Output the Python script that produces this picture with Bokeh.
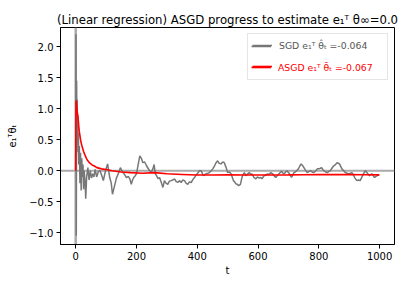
from bokeh.plotting import figure
from bokeh.models import Span, Legend, LegendItem, FixedTicker, Range1d, CustomJSTickFormatter
from bokeh.embed import file_html
from bokeh.resources import INLINE
from bokeh.core.properties import value

# ---- data ----
t_sgd = [0, 1, 2, 3, 4, 5, 6, 7, 8, 9, 10, 12, 14, 16, 18, 20, 22, 24, 26, 28, 31, 33, 36, 40, 44,
         48, 52, 56, 60, 64, 69, 74, 80, 86, 91, 98, 105, 112, 117, 121, 125, 129, 134, 140, 147,
         152, 156, 162, 167, 173, 178, 183, 187, 191, 196, 200, 206, 211, 216, 221, 227, 233, 238,
         243, 249, 254, 258, 262, 266, 271, 276, 281, 287, 292, 297, 303, 308, 314, 319, 325, 330,
         336, 341, 347, 352, 358, 363, 369, 374, 380, 386, 391, 396, 400, 407, 413, 417, 421, 425,
         429, 435, 440, 446, 451, 457, 462, 467, 472, 478, 484, 489, 495, 500, 506, 511, 515, 519,
         523, 527, 532, 536, 542, 547, 551, 555, 560, 566, 571, 576, 580, 587, 593, 598, 604, 609,
         613, 620, 626, 631, 636, 642, 648, 653, 658, 663, 669, 673, 677, 682, 686, 691, 695, 702,
         706, 710, 714, 718, 723, 727, 731, 735, 738, 742, 747, 751, 756, 762, 768, 773, 778, 784,
         790, 795, 800, 805, 809, 813, 817, 822, 828, 833, 838, 843, 849, 855, 860, 864, 868, 872,
         876, 882, 887, 893, 898, 904, 909, 914, 918, 922, 925, 931, 936, 940, 944, 949, 953, 958,
         963, 967, 971, 975, 979, 983, 988, 992, 996, 999]
v_sgd = [0.0, 2.2, -1.05, 1.45, 0.8, 1.15, 0.45, 0.9, 0.3, 0.6, 0.1, 0.4, -0.2, 0.29, -0.32, 0.2,
         -0.1, 0.1, -0.3, 0.0, -0.2, -0.45, -0.1, 0.05, -0.15, 0.0, -0.12, -0.05, -0.1, 0.02, -0.1,
         -0.02, 0.0, -0.08, -0.16, 0.0, 0.11, -0.11, -0.2, -0.38, -0.3, -0.22, -0.12, -0.05, 0.05,
         0.0, -0.03, -0.07, -0.11, -0.09, -0.13, -0.22, -0.15, -0.11, -0.08, -0.05, 0.11, 0.24, 0.2,
         0.13, 0.14, 0.08, 0.04, 0.0, -0.02, 0.03, 0.1, -0.05, -0.08, -0.13, -0.11, -0.18, -0.27,
         -0.16, -0.2, -0.22, -0.17, -0.16, -0.15, -0.13, -0.17, -0.19, -0.16, -0.19, -0.15, -0.16,
         -0.2, -0.22, -0.18, -0.19, -0.14, -0.11, -0.07, -0.05, 0.0, 0.0, -0.05, -0.08, -0.06, -0.05,
         -0.04, -0.03, 0.0, 0.03, 0.08, 0.13, 0.16, 0.12, 0.11, 0.14, 0.13, 0.05, -0.03, -0.02, -0.05,
         -0.1, -0.16, -0.18, -0.21, -0.22, -0.24, -0.22, -0.11, -0.06, -0.03, -0.08, -0.05, -0.03,
         -0.06, -0.05, -0.11, -0.13, -0.1, -0.12, -0.11, -0.13, -0.08, -0.07, -0.05, -0.06, -0.03,
         -0.05, -0.08, -0.11, -0.08, -0.05, -0.03, -0.01, -0.04, -0.05, -0.02, 0.0, -0.04, -0.07,
         -0.11, -0.07, -0.03, -0.02, 0.0, 0.02, 0.05, 0.08, 0.11, 0.08, 0.05, 0.01, -0.03, -0.01, 0.0,
         -0.02, -0.03, 0.0, 0.03, 0.03, 0.04, 0.05, 0.02, 0.0, -0.02, -0.03, -0.01, 0.0, 0.04, 0.08,
         0.1, 0.13, 0.12, 0.11, 0.07, 0.03, 0.0, -0.03, -0.04, -0.05, -0.04, -0.03, -0.07, -0.11,
         -0.14, -0.16, -0.15, -0.16, -0.12, -0.08, -0.03, 0.0, -0.03, -0.06, -0.08, -0.06, -0.05,
         -0.08, -0.11, -0.09, -0.08, -0.07, -0.064]

t_asgd = [0, 1, 2, 3, 5, 8, 10, 12, 14, 16, 18, 20, 23, 26, 30, 35, 40, 45, 50, 55, 60, 70, 85,
          100, 120, 150, 180, 220, 260, 300, 350, 400, 450, 500, 550, 600, 650, 700, 750, 800, 850,
          900, 950, 999]
v_asgd = [0.0, 1.13, 1.12, 1.05, 0.95, 0.85, 0.72, 0.63, 0.56, 0.5, 0.45, 0.41, 0.36, 0.31, 0.26,
          0.2, 0.16, 0.13, 0.11, 0.09, 0.08, 0.05, 0.03, 0.02, 0.0, -0.02, -0.03, -0.04, -0.03,
          -0.05, -0.06, -0.07, -0.07, -0.065, -0.07, -0.07, -0.068, -0.067, -0.065, -0.063, -0.062,
          -0.063, -0.066, -0.067]

x_ticks = [0, 200, 400, 600, 800, 1000]
y_ticks = [-1.0, -0.5, 0.0, 0.5, 1.0, 1.5, 2.0]

title_text = "(Linear regression) ASGD progress to estimate e\u2081\u1d40 \u03b8\u221e=0.0"
sgd_label = "SGD e\u2081\u1d40 \u03b8\u0302\u209c =-0.064"
asgd_label = "ASGD e\u2081\u1d40 \u03b8\u0304\u209c =-0.067"
x_label = "t"
y_label = "e\u2081\u1d40\u03b8\u209c"

FONT = "DejaVu Sans"

p = figure(width=407, height=282, output_backend="svg", toolbar_location=None,
           x_range=Range1d(-50, 1049), y_range=Range1d(-1.19, 2.31),
           min_border_left=60, min_border_right=13, min_border_top=27, min_border_bottom=38,
           title=title_text)

p.title.text_font = FONT
p.title.text_font_size = "11.7px"
p.title.text_font_style = "normal"
p.title.align = "center"
p.title.text_color = "black"
p.title.standoff = 2

p.xgrid.visible = False
p.ygrid.visible = False
p.outline_line_color = "black"
p.outline_line_width = 1
p.outline_line_alpha = 1
p.background_fill_color = "white"
p.border_fill_color = "white"

p.add_layout(Span(location=0, dimension="width", line_color="#aaaaaa", line_width=2, level="underlay"))
p.add_layout(Span(location=0, dimension="height", line_color="#aaaaaa", line_width=2.5, level="underlay"))

r1 = p.line(t_sgd, v_sgd, line_color="#777777", line_width=1.5)
r2 = p.line(t_asgd, v_asgd, line_color="red", line_width=1.6)

p.xaxis.ticker = FixedTicker(ticks=x_ticks)
p.yaxis.ticker = FixedTicker(ticks=y_ticks)
p.yaxis.formatter = CustomJSTickFormatter(code="return tick.toFixed(1).replace('-', '\u2212');")
p.xaxis.axis_label = x_label
p.yaxis.axis_label = y_label
for ax in (p.xaxis[0], p.yaxis[0]):
    ax.major_tick_out = 4
    ax.major_tick_in = 0
    ax.minor_tick_line_color = None
    ax.axis_line_color = "black"
    ax.major_tick_line_color = "black"
    ax.major_label_text_font = FONT
    ax.major_label_text_font_size = "10px"
    ax.major_label_text_color = "black"
    ax.major_label_standoff = 3
    ax.axis_label_text_font = FONT
    ax.axis_label_text_font_size = "10px"
    ax.axis_label_text_font_style = "normal"
    ax.axis_label_text_color = "black"
p.xaxis.axis_label_standoff = 2
p.yaxis.axis_label_standoff = 8

common = dict(location="top_right", label_text_font=FONT, label_text_font_size="9.3px",
              glyph_width=20, glyph_height=18, label_standoff=7, label_width=106, label_height=18,
              padding=3, spacing=3, margin=6)

legA = Legend(items=[LegendItem(label=value(" "), renderers=[r1]),
                     LegendItem(label=value(asgd_label), renderers=[r2])],
              border_line_color="#cccccc", border_line_width=1, background_fill_color="white",
              background_fill_alpha=0.8, label_text_color="red", **common)
legB = Legend(items=[LegendItem(label=value(sgd_label), renderers=[r1]),
                     LegendItem(label=value(" "), renderers=[r2])],
              border_line_alpha=0, background_fill_alpha=0, label_text_color="#555555", **common)
p.add_layout(legA)
p.add_layout(legB)

open("out.html", "w").write(file_html(p, INLINE))
